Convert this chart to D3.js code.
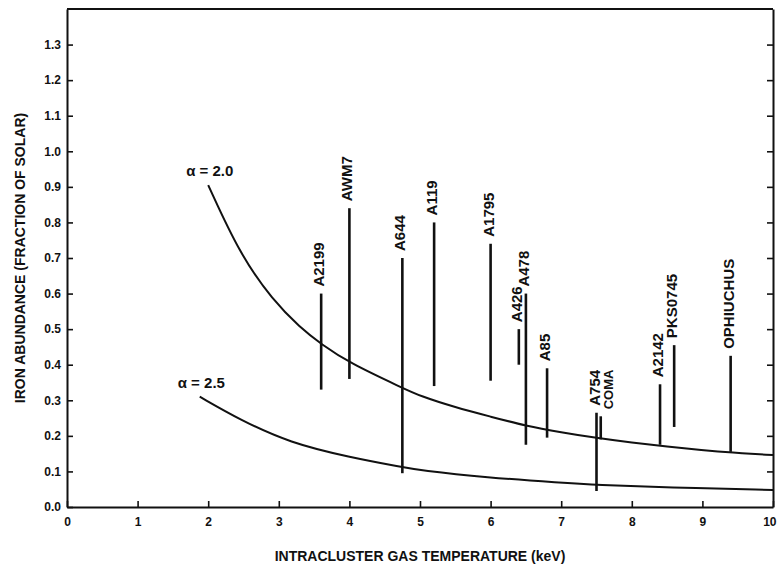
<!DOCTYPE html>
<html>
<head>
<meta charset="utf-8">
<script src="https://cdn.jsdelivr.net/npm/d3@7"></script>
<style>
  body { margin: 0; background: #fff; }
  text { font-family: "Liberation Sans", Arial, sans-serif; font-weight: bold; fill: #111; }
</style>
</head>
<body>
<div id="chart"></div>
<script>
// cluster measurements (temperature in keV, iron abundance range)
var clusters = ["A2199", "AWM7", "A644", "A119", "A1795", "A426", "A478", "A85", "A754", "COMA", "A2142", "PKS0745", "OPHIUCHUS"]
var clusterTemp = [3.6, 4.0, 4.75, 5.2, 6.0, 6.4, 6.5, 6.8, 7.5, 7.56, 8.4, 8.6, 9.4]
var abundLow = [0.33, 0.36, 0.095, 0.34, 0.355, 0.40, 0.175, 0.195, 0.045, 0.19, 0.175, 0.225, 0.155]
var abundHigh = [0.60, 0.84, 0.70, 0.80, 0.74, 0.50, 0.60, 0.39, 0.265, 0.255, 0.345, 0.455, 0.425]

// model curves
var tempA20 = [2.0, 2.45, 2.92, 3.3, 3.6, 4.0, 4.75, 5.0, 5.5, 6.0, 6.5, 7.0, 7.5, 8.0, 8.5, 9.0, 9.4, 10]
var abundA20 = [0.905, 0.71, 0.58, 0.505, 0.458, 0.405, 0.335, 0.312, 0.28, 0.254, 0.228, 0.21, 0.194, 0.181, 0.17, 0.16, 0.153, 0.146]
var tempA25 = [1.88, 2.45, 3.16, 4.0, 4.75, 5.0, 5.94, 7.0, 7.5, 8.5, 10]
var abundA25 = [0.31, 0.245, 0.18, 0.14, 0.112, 0.103, 0.083, 0.068, 0.062, 0.055, 0.048]
var curveLabels = ["\u03b1 = 2.0", "\u03b1 = 2.5"]

// tick labels
var xTicks = [0, 1, 2, 3, 4, 5, 6, 7, 8, 9, 10]
var yTicks = [0, 0.1, 0.2, 0.3, 0.4, 0.5, 0.6, 0.7, 0.8, 0.9, 1.0, 1.1, 1.2, 1.3]

var width = 777
var height = 566

var svg = d3.select("#chart")
    .append("svg")
    .attr("width", width)
    .attr("height", height)

var x = d3.scaleLinear().domain([0, 10]).range([67, 773])
var y = d3.scaleLinear().domain([0, 1.4]).range([507, 9])

// axes: ticks point inwards
var xAxis = svg.append("g")
    .attr("transform", "translate(0," + y(0) + ")")
    .call(d3.axisBottom(x).tickValues(xTicks).tickFormat(d3.format("d")).tickSizeInner(-6).tickSizeOuter(0).tickPadding(10))
xAxis.selectAll("text").style("font-size", "12px")
// last label would run off the page, keep it inside
xAxis.selectAll("text").filter(function(d) { return d == 10 }).attr("text-anchor", "end").attr("dx", "0.25em")

var yAxis = svg.append("g")
    .attr("transform", "translate(" + x(0) + ",0)")
    .call(d3.axisLeft(y).tickValues(yTicks).tickFormat(d3.format(".1f")).tickSizeInner(-6).tickSizeOuter(0).tickPadding(6))
yAxis.selectAll("text").style("font-size", "12px")

var rightAxis = svg.append("g")
    .attr("transform", "translate(" + x(10) + ",0)")
    .call(d3.axisRight(y).tickValues(yTicks.slice(1)).tickFormat("").tickSizeInner(-6).tickSizeOuter(0))

svg.selectAll(".domain").style("stroke", "#111").style("stroke-width", 2)
svg.selectAll(".tick line").style("stroke", "#111").style("stroke-width", 1.6)

// top frame
svg.append("line")
    .attr("x1", x(0)).attr("x2", x(10))
    .attr("y1", y(1.4)).attr("y2", y(1.4))
    .style("stroke", "#111").style("stroke-width", 2)

// axis titles
svg.append("text")
    .attr("x", x(5)).attr("y", 561)
    .attr("text-anchor", "middle")
    .style("font-size", "14px")
    .text("INTRACLUSTER GAS TEMPERATURE (keV)")

svg.append("text")
    .attr("transform", "translate(25," + y(0.7) + ") rotate(-90)")
    .attr("text-anchor", "middle")
    .style("font-size", "14px")
    .text("IRON ABUNDANCE (FRACTION OF SOLAR)")

// curves
var line = d3.line()
    .x(function(d) { return x(d[0]) })
    .y(function(d) { return y(d[1]) })
    .curve(d3.curveBasis)

var curves = [d3.zip(tempA20, abundA20), d3.zip(tempA25, abundA25)]

svg.append("g").selectAll("path")
    .data(curves)
    .enter()
    .append("path")
    .attr("d", line)
    .style("fill", "none")
    .style("stroke", "#111")
    .style("stroke-width", 2)

svg.append("g").selectAll("text")
    .data(curves)
    .enter()
    .append("text")
    .attr("x", function(d) { return x(d[0][0]) - 22 })
    .attr("y", function(d) { return y(d[0][1]) - 9 })
    .style("font-size", "15px")
    .text(function(d, i) { return curveLabels[i] })

// cluster bars
var data = clusters.map(function(c, i) {
    return { name: c, t: clusterTemp[i], lo: abundLow[i], hi: abundHigh[i] }
})

svg.append("g").selectAll("line")
    .data(data)
    .enter()
    .append("line")
    .attr("x1", function(d) { return x(d.t) })
    .attr("x2", function(d) { return x(d.t) })
    .attr("y1", function(d) { return y(d.lo) })
    .attr("y2", function(d) { return y(d.hi) })
    .style("stroke", "#111")
    .style("stroke-width", 2.6)

// labels sit above the bars, reading upwards (COMA is tucked right of A754)
svg.append("g").selectAll("text")
    .data(data)
    .enter()
    .append("text")
    .attr("transform", function(d) {
        var dx = d.name == "COMA" ? 12 : 3
        return "translate(" + (x(d.t) + dx) + "," + (y(d.hi) - 7) + ") rotate(-90)"
    })
    .style("font-size", function(d) { return d.name == "COMA" ? "13px" : "15px" })
    .text(function(d) { return d.name })
</script>
</body>
</html>
